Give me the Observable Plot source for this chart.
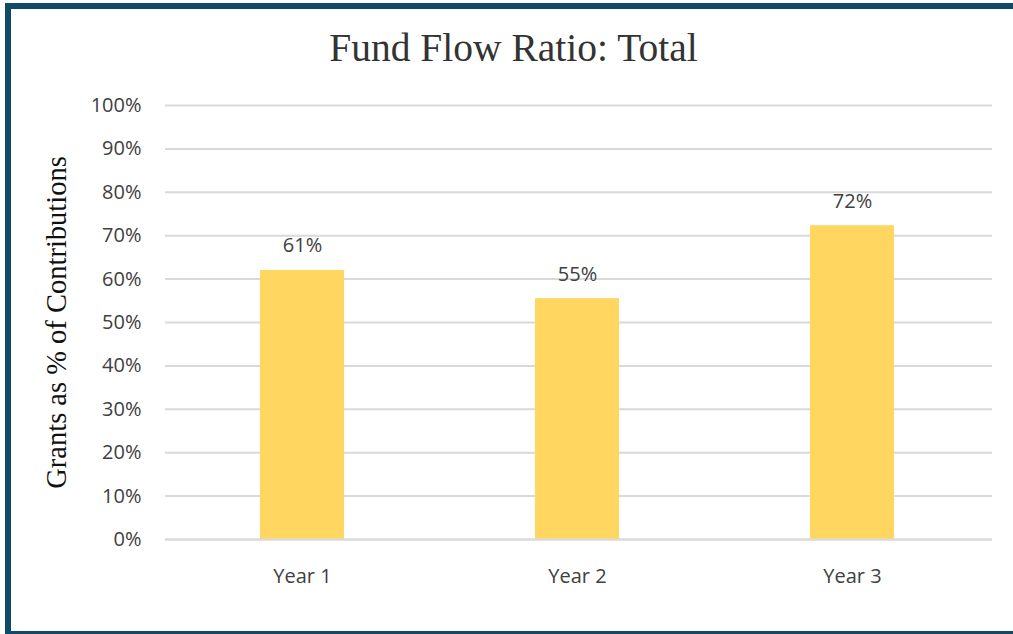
<!DOCTYPE html>
<html>
<head>
<meta charset="utf-8">
<script src="https://cdn.jsdelivr.net/npm/d3@7"></script>
<script src="https://cdn.jsdelivr.net/npm/@observablehq/plot@0.6"></script>
<style>
  html, body { margin: 0; padding: 0; background: #fff; }
  #wrap { position: relative; width: 1013px; height: 634px; overflow: hidden; background: #fff; }
  .b { position: absolute; background: #0f4a66; }
  #title { position: absolute; left: 7px; width: 1013px; top: 29px; text-align: center;
    font-family: "Liberation Serif", "DejaVu Serif", serif; font-size: 39.5px; color: #333; line-height: 1; }
  #chart { position: absolute; left: 0; top: 0; }
  #chart g[aria-label="y-axis label"] text { font-family: "Liberation Serif", serif; font-size: 28.5px; fill: #111; }
</style>
</head>
<body>
<div id="wrap">
  <div class="b" style="left:5px;top:3px;width:1008px;height:6px;"></div>
  <div class="b" style="left:5px;top:3px;width:6px;height:631px;"></div>
  <div class="b" style="left:5px;top:631px;width:1008px;height:3px;"></div>
  <div id="title">Fund Flow Ratio: Total</div>
  <div id="chart"></div>
</div>
<script>
const categories = ["Year 1", "Year 2", "Year 3"];
const values = [0.62, 0.555, 0.723];
const valueLabels = ["61%", "55%", "72%"];
const yTicks = [0, 0.1, 0.2, 0.3, 0.4, 0.5, 0.6, 0.7, 0.8, 0.9, 1.0];

const data = categories.map((c, i) => ({cat: c, value: values[i], label: valueLabels[i]}));

const chart = Plot.plot({
  width: 1013,
  height: 634,
  marginTop: 105,
  marginBottom: 95,
  marginLeft: 165,
  marginRight: 21,
  style: { fontFamily: "'Open Sans', Lato, sans-serif", fontSize: "20px", color: "#404040", background: "transparent" },
  x: { domain: categories, paddingInner: 0.695, paddingOuter: 0.348, align: 0.49, label: null },
  y: { domain: [0, 1], label: null },
  marks: [
    Plot.gridY(yTicks, { stroke: "#d9d9d9", strokeOpacity: 1, strokeWidth: 2 }),
    Plot.barY(data, { x: "cat", y: "value", fill: "#FFD65F" }),
    Plot.ruleY([0], { stroke: "#d9d9d9", strokeWidth: 2 }),
    Plot.text(data, { x: "cat", y: "value", text: "label", dy: -18, lineAnchor: "bottom", fill: "#404040", fontSize: 20 }),
    Plot.axisY({ ticks: yTicks, tickFormat: d3.format(".0%"), tickSize: 0, tickPadding: 24, fontSize: 20,
      label: "Grants as % of Contributions", labelAnchor: "center", labelArrow: "none", labelOffset: 120 }),
    Plot.axisX({ tickSize: 0, tickPadding: 29, fontSize: 20 })
  ]
});
document.getElementById("chart").appendChild(chart);
</script>
</body>
</html>
